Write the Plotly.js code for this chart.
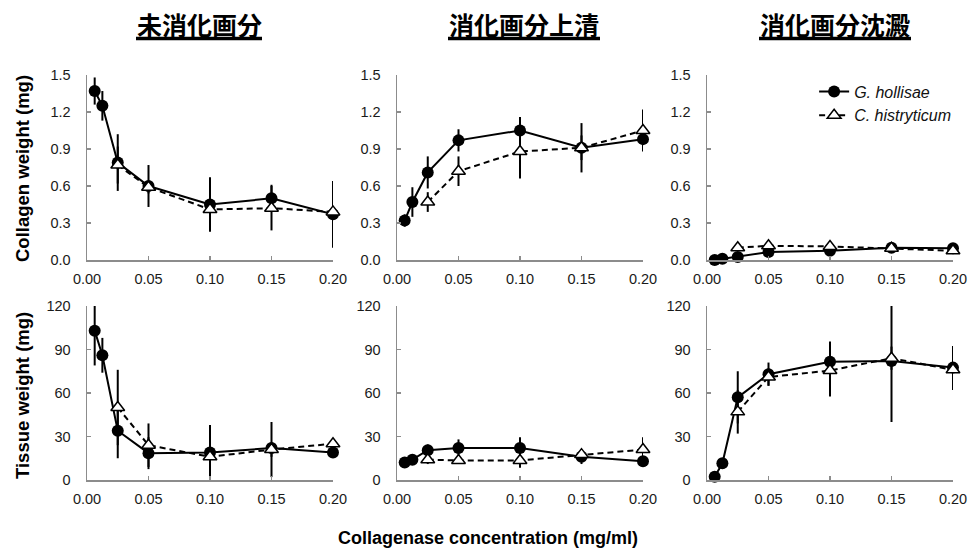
<!DOCTYPE html>
<html><head><meta charset="utf-8">
<script src="https://cdn.plot.ly/plotly-3.0.1.min.js"></script>
<style>html,body{margin:0;padding:0;background:#fff}#chart{width:975px;height:556px}</style>
</head><body><div id="chart"></div>
<script>
// Concentrations (mg/ml)
const concG = [0.00625, 0.0125, 0.025, 0.05, 0.1, 0.15, 0.2];
const concC = [0.025, 0.05, 0.1, 0.15, 0.2];

const seriesNames = ['G. hollisae', 'C. histryticum'];
const columnTitles = ['未消化画分', '消化画分上清', '消化画分沈澱'];
const rowTitles = ['Collagen weight (mg)', 'Tissue weight (mg)'];
const xTitle = 'Collagenase concentration (mg/ml)';

// Collagen weight (mg)
const colUndigG = [1.37, 1.25, 0.79, 0.60, 0.45, 0.50, 0.37];
const colUndigGErr = [0.11, 0.12, 0.23, 0.17, 0.22, 0.11, 0.27];
const colUndigC = [0.77, 0.59, 0.41, 0.42, 0.39];
const colUndigCErr = [0.15, 0.05, 0.05, 0.18, 0.05];

const colSupG = [0.32, 0.47, 0.71, 0.97, 1.05, 0.91, 0.98];
const colSupGErr = [0.05, 0.12, 0.13, 0.09, 0.11, 0.10, 0.09];
const colSupC = [0.47, 0.72, 0.88, 0.91, 1.05];
const colSupCErr = [0.08, 0.12, 0.22, 0.20, 0.17];

const colPptG = [0.0, 0.01, 0.025, 0.065, 0.075, 0.10, 0.095];
const colPptGErr = [0.005, 0.005, 0.01, 0.01, 0.01, 0.01, 0.01];
const colPptC = [0.10, 0.115, 0.11, 0.095, 0.075];
const colPptCErr = [0.01, 0.01, 0.01, 0.01, 0.01];

// Tissue weight (mg)
const tisUndigG = [103, 86, 34, 18.5, 19, 22, 19];
const tisUndigGErrPlus = [18, 12, 19, 11, 19, 18, 3];
const tisUndigGErrMinus = [24, 12, 19, 11, 19, 20, 3];
const tisUndigC = [50, 24, 16, 21, 25];
const tisUndigCErr = [26, 15, 5, 5, 3];

const tisSupG = [12, 14, 20.5, 22, 22, 16, 13];
const tisSupGErr = [2, 2, 4, 6, 7.5, 5, 2];
const tisSupC = [14, 13.5, 13.5, 17.5, 21];
const tisSupCErr = [3, 2, 5, 3, 8.5];

const tisPptG = [2.3, 11.5, 57, 73, 81.5, 82, 77.5];
const tisPptGErrPlus = [2, 3, 18, 8, 14, 39, 15];
const tisPptGErrMinus = [2, 3, 18, 8, 14, 42, 15];
const tisPptC = [47, 71, 75.5, 84, 76];
const tisPptCErr = [15, 6, 18, 8, 14];

const panels = [
  {g: colUndigG, gp: colUndigGErr, gm: colUndigGErr, c: colUndigC, ce: colUndigCErr},
  {g: colSupG, gp: colSupGErr, gm: colSupGErr, c: colSupC, ce: colSupCErr},
  {g: colPptG, gp: colPptGErr, gm: colPptGErr, c: colPptC, ce: colPptCErr},
  {g: tisUndigG, gp: tisUndigGErrPlus, gm: tisUndigGErrMinus, c: tisUndigC, ce: tisUndigCErr},
  {g: tisSupG, gp: tisSupGErr, gm: tisSupGErr, c: tisSupC, ce: tisSupCErr},
  {g: tisPptG, gp: tisPptGErrPlus, gm: tisPptGErrMinus, c: tisPptC, ce: tisPptCErr}
];

const W = 975, H = 556;
const colPx = [[87, 333], [397, 643], [707, 953]];
const rowPx = [[75, 260], [306, 480]];
const axisColor = '#8c8c8c';
const tickFont = {family: 'Liberation Sans, Arial, sans-serif', size: 14.5, color: '#1a1a1a'};

const traces = [];
const layout = {
  width: W, height: H,
  margin: {l: 0, r: 0, t: 0, b: 0},
  paper_bgcolor: '#fff', plot_bgcolor: 'rgba(0,0,0,0)',
  showlegend: true,
  legend: {
    x: 0.835, y: 0.866, xanchor: 'left', yanchor: 'top',
    bgcolor: 'rgba(0,0,0,0)', borderwidth: 0,
    font: {family: 'Liberation Sans, Arial, sans-serif', size: 16, color: '#111'},
    tracegroupgap: 0, itemwidth: 30
  },
  annotations: [], shapes: []
};

panels.forEach((p, i) => {
  const r = Math.floor(i / 3), c = i % 3;
  const n = i + 1;
  const xa = 'xaxis' + (n === 1 ? '' : n), ya = 'yaxis' + (n === 1 ? '' : n);
  const xr = 'x' + (n === 1 ? '' : n), yr = 'y' + (n === 1 ? '' : n);
  layout[xa] = {
    domain: [colPx[c][0] / W, colPx[c][1] / W], anchor: yr,
    range: [0, 0.2], dtick: 0.05, tick0: 0, tickformat: '.2f',
    showline: true, linecolor: axisColor, linewidth: 1.5,
    ticks: 'inside', ticklen: 4, tickwidth: 1.2, tickcolor: axisColor,
    showgrid: false, zeroline: false, tickfont: tickFont, ticklabelstandoff: 5,
    fixedrange: true
  };
  layout[ya] = {
    domain: [1 - rowPx[r][1] / H, 1 - rowPx[r][0] / H], anchor: xr,
    range: r === 0 ? [0, 1.5] : [0, 120], dtick: r === 0 ? 0.3 : 30, tick0: 0,
    tickformat: r === 0 ? '.1f' : 'd',
    showline: true, linecolor: axisColor, linewidth: 1.5,
    ticks: 'inside', ticklen: 4, tickwidth: 1.2, tickcolor: axisColor,
    showgrid: false, zeroline: false, tickfont: tickFont, ticklabelstandoff: 12,
    fixedrange: true
  };
  traces.push({
    type: 'scatter', mode: 'lines+markers', x: concG, y: p.g, xaxis: xr, yaxis: yr,
    name: '<i>' + seriesNames[0] + '</i>', showlegend: i === 0, legendgroup: 'g',
    cliponaxis: false,
    line: {color: '#000', width: 2},
    marker: {symbol: 'circle', size: 12, color: '#000'},
    error_y: {type: 'data', array: p.gp, arrayminus: p.gm, symmetric: false, color: '#000', thickness: 2, width: 0}
  });
  traces.push({
    type: 'scatter', mode: 'lines+markers', x: concC, y: p.c, xaxis: xr, yaxis: yr,
    name: '<i>' + seriesNames[1] + '</i>', showlegend: i === 0, legendgroup: 'c',
    cliponaxis: false,
    line: {color: '#000', width: 2, dash: '6px,4px'},
    marker: {symbol: 'triangle-up', size: 12, color: '#fff', line: {color: '#000', width: 1.5}},
    error_y: {type: 'data', array: p.ce, color: '#000', thickness: 2, width: 0}
  });
});

// Column titles with thick underline
const titleCenters = [199, 524, 835];
const titleHalfWidths = [63, 76, 76];
columnTitles.forEach((t, i) => {
  layout.annotations.push({
    xref: 'paper', yref: 'paper', x: titleCenters[i] / W, y: 1 - 24 / H,
    xanchor: 'center', yanchor: 'middle', showarrow: false,
    text: '<b>' + t + '</b>',
    font: {family: 'Noto Sans CJK JP, sans-serif', size: 25, color: '#000'}
  });
  layout.shapes.push({
    type: 'line', xref: 'paper', yref: 'paper',
    x0: (titleCenters[i] - titleHalfWidths[i]) / W, x1: (titleCenters[i] + titleHalfWidths[i]) / W,
    y0: 1 - 38.5 / H, y1: 1 - 38.5 / H,
    line: {color: '#000', width: 3.5}
  });
});
// Row (y-axis) titles
const rowCenters = [169, 396];
rowTitles.forEach((t, i) => {
  layout.annotations.push({
    xref: 'paper', yref: 'paper', x: 22 / W, y: 1 - rowCenters[i] / H,
    xanchor: 'center', yanchor: 'middle', showarrow: false, textangle: -90,
    text: '<b>' + t + '</b>',
    font: {family: 'Liberation Sans, Arial, sans-serif', size: 18.5, color: '#000'}
  });
});
// X title
layout.annotations.push({
  xref: 'paper', yref: 'paper', x: 0.5, y: 1 - 538 / H,
  xanchor: 'center', yanchor: 'middle', showarrow: false,
  text: '<b>' + xTitle + '</b>',
  font: {family: 'Liberation Sans, Arial, sans-serif', size: 18, color: '#000'}
});

Plotly.newPlot('chart', traces, layout, {displayModeBar: false, staticPlot: true});
</script></body></html>
